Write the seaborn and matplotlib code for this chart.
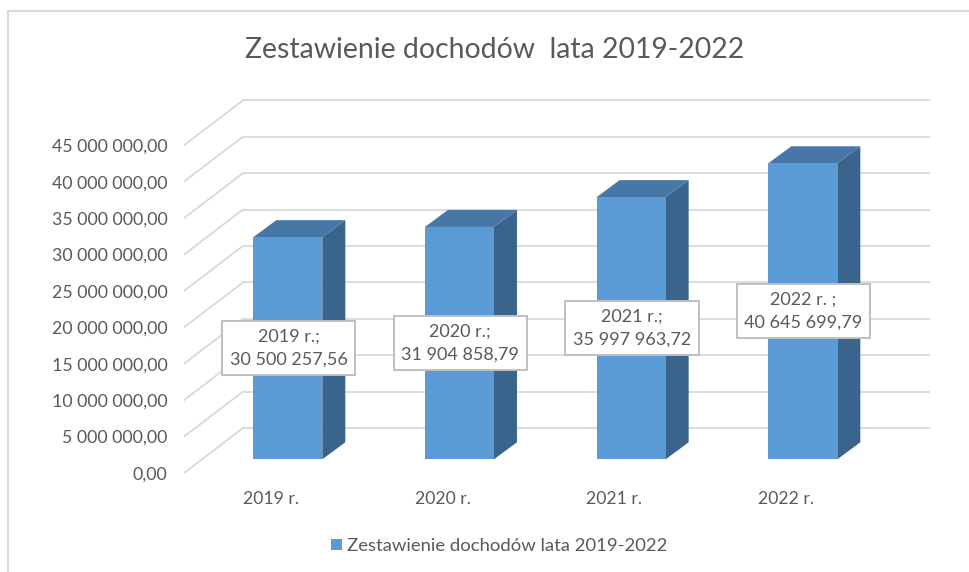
import matplotlib
matplotlib.use('Agg')
import numpy as np
import pandas as pd
import matplotlib.pyplot as plt
import seaborn as sns
from matplotlib.lines import Line2D

years = ['2019 r.', '2020 r.', '2021 r.', '2022 r.']
income = [30500257.56, 31904858.79, 35997963.72, 40645699.79]
seps = [';', ';', ';', ' ;']
axis_values = [0, 5e6, 10e6, 15e6, 20e6, 25e6, 30e6, 35e6, 40e6, 45e6]
series_name = 'Zestawienie dochodów lata 2019-2022'
title = 'Zestawienie dochodów  lata 2019-2022'

FRONT = '#5B9BD5'
SIDE = '#3A648C'
TOP = '#4677A6'
GRID = '#D9D9D9'
TEXT = '#595959'

W, H = 970, 572


def pl(v):
    # polish number format
    return f'{v:,.2f}'.replace(',', ' ').replace('.', ',')


df = pd.DataFrame({'year': years, 'income': income})

sns.set_theme(style='white')
plt.rcParams['font.family'] = ['Lato', 'DejaVu Sans']

fig = plt.figure(figsize=(W / 100, H / 100), dpi=100)
# axes box in image pixels
left, right, top, bottom = 184, 930, 80, 480
ax = fig.add_axes([left / W, 1 - bottom / H, (right - left) / W, (bottom - top) / H])

sns.barplot(data=df, x='year', y='income', color=FRONT, saturation=1, width=0.402,
            label=series_name, ax=ax, zorder=3, linewidth=0)

# scale: 171.67 px per category, 7.283 px per million
px_x = 171.67
px_y = 7.283e-6
x0, y0 = 287.8, 459.3
ax.set_xlim((left - x0) / px_x, (right - x0) / px_x)
ax.set_ylim((y0 - bottom) / px_y, (y0 - top) / px_y)

# walls of the 3d box
back_x = (243 - x0) / px_x
front_shift = (473 - y0) / px_y
back_shift = (y0 - 428) / px_y
for v in axis_values:
    ax.plot([ax.get_xlim()[0], back_x], [v - front_shift, v + back_shift], color=GRID, lw=1.3, zorder=1)
    ax.plot([back_x, ax.get_xlim()[1]], [v + back_shift, v + back_shift], color=GRID, lw=1.3, zorder=1)

# depth of the bars
dx = 23 / px_x
dy = 17 / px_y
for bar in ax.patches:
    a = bar.get_x()
    b = a + bar.get_width()
    h = bar.get_height()
    ax.fill([b, b + dx, b + dx, b], [0, dy, h + dy, h], color=SIDE, lw=0, zorder=2)
    ax.fill([a, a + dx, b + dx, b], [h, h + dy, h + dy, h], color=TOP, lw=0, zorder=2)

for i, v in enumerate(income):
    ax.text(i + 0.004, v / 2, f'{years[i]}{seps[i]}\n{pl(v)}', ha='center', va='center', fontsize=13,
            color=TEXT, linespacing=1.5, zorder=5,
            bbox=dict(boxstyle='square,pad=0.42', fc='white', ec='#BFBFBF', lw=1.4))

ax.set_yticks([v - front_shift for v in axis_values], [pl(v) for v in axis_values])
ax.set_xticks([i - 17 / px_x for i in range(len(years))], years)
ax.tick_params(axis='y', length=0, pad=12, labelsize=12.8, labelcolor=TEXT)
ax.tick_params(axis='x', length=0, pad=8, labelsize=12.7, labelcolor=TEXT)
ax.set_xlabel('')
ax.set_ylabel('')
sns.despine(ax=ax, left=True, bottom=True, top=True, right=True)
ax.patch.set_alpha(0)

fig.text(495 / W, 1 - 50 / H, title, ha='center', va='center', fontsize=20.4, color=TEXT)

ax.legend(loc='center', bbox_to_anchor=(499.5 / W, 1 - 546 / H), bbox_transform=fig.transFigure,
          frameon=False, fontsize=13.3, labelcolor=TEXT, handlelength=0.55, handleheight=0.55,
          handletextpad=0.3)

# chart frame, only left and top show in the screenshot
fig.add_artist(Line2D([8 / W, 8 / W], [0, 1 - 11 / H], color=GRID, lw=1.5))
fig.add_artist(Line2D([8 / W, 1], [1 - 11 / H, 1 - 11 / H], color=GRID, lw=1.5))

fig.savefig('out.png', dpi=100)
